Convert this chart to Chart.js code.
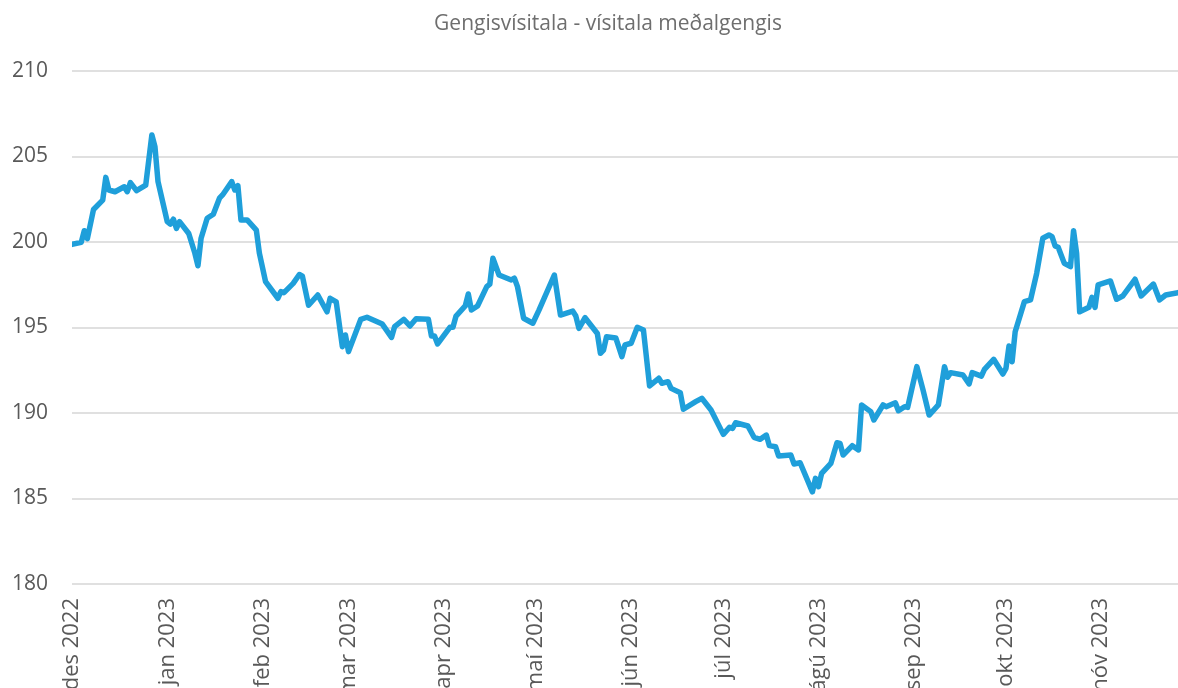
<!DOCTYPE html>
<html>
<head>
<meta charset="utf-8">
<title>Gengisvísitala</title>
<script src="https://cdn.jsdelivr.net/npm/chart.js@4.4.0/dist/chart.umd.min.js"></script>
<style>
    html, body { margin: 0; padding: 0; background: #fff; overflow: hidden; }
    #wrap { position: relative; width: 1178px; height: 688px; }
    #title {
        position: absolute; left: 0; top: 8px; width: 1216px;
        text-align: center; font-family: "Open Sans", sans-serif;
        font-size: 21px; color: #6e6e6e;
    }
</style>
</head>
<body>
<div id="wrap">
    <canvas id="mycanvas"></canvas>
    <div id="title">Gengisvísitala - vísitala meðalgengis</div>
</div>
<script>
// days counted from 1 Dec 2022
var days = [
    0, 3, 4, 5, 7, 10, 11, 12, 14, 17, 18, 19, 21, 24, 26, 27, 28, 31, 32, 33,
    34, 35, 38, 40, 41, 42, 44, 46, 48, 49, 52, 53, 54, 55, 57, 60, 61, 63, 67, 68,
    69, 72, 74, 75, 77, 80, 83, 84, 86, 88, 89, 90, 94, 96, 101, 104, 105, 108, 110, 112,
    116, 117, 118, 119, 123, 124, 125, 128, 129, 130, 132, 135, 136, 137, 139, 143, 144, 145, 147, 150,
    152, 157, 159, 163, 164, 165, 167, 171, 172, 173, 174, 177, 179, 180, 182, 184, 186, 188, 191, 192,
    194, 195, 198, 199, 203, 205, 208, 212, 214, 215, 216, 220, 222, 224, 226, 227, 229, 230, 234, 235,
    237, 241, 242, 243, 244, 247, 249, 250, 251, 254, 256, 257, 260, 261, 264, 265, 268, 269, 271, 272,
    275, 277, 279, 282, 284, 285, 286, 290, 292, 293, 296, 297, 300, 303, 304, 305, 306, 307, 310, 312,
    314, 316, 318, 319, 320, 321, 323, 325, 326, 327, 328, 331, 332, 333, 334, 338, 340, 342, 346, 348,
    352, 354, 356, 360
];
var values = [
    199.86, 199.98, 200.66, 200.2, 201.9, 202.45, 203.78, 203.04, 202.94, 203.23, 202.94, 203.47, 203.0, 203.33, 206.26, 205.57, 203.53, 201.19, 201.05, 201.33,
    200.8, 201.19, 200.5, 199.34, 198.61, 200.2, 201.39, 201.62, 202.56, 202.75, 203.53, 203.04, 203.29, 201.29, 201.29, 200.7, 199.34, 197.68, 196.71, 197.1,
    197.04, 197.58, 198.1, 198.0, 196.3, 196.9, 195.92, 196.71, 196.5, 193.88, 194.56, 193.59, 195.48, 195.6, 195.2, 194.42, 195.05, 195.48, 195.09, 195.51,
    195.48, 194.5, 194.5, 194.04, 195.01, 195.01, 195.67, 196.26, 196.96, 196.02, 196.26, 197.39, 197.54, 199.05, 198.07, 197.78, 197.88, 197.39, 195.54, 195.25,
    196.02, 198.07, 195.73, 195.96, 195.67, 194.95, 195.57, 194.65, 193.49, 193.68, 194.46, 194.39, 193.3, 193.98, 194.08, 195.01, 194.85, 191.58, 192.03, 191.74,
    191.83, 191.44, 191.19, 190.22, 190.66, 190.86, 190.18, 188.75, 189.16, 189.1, 189.43, 189.24, 188.58, 188.46, 188.71, 188.09, 188.03, 187.49, 187.54, 187.02,
    187.09, 185.39, 186.18, 185.69, 186.47, 187.05, 188.26, 188.22, 187.54, 188.09, 187.84, 190.47, 190.08, 189.59, 190.47, 190.37, 190.6, 190.13, 190.37, 190.33,
    192.71, 191.35, 189.88, 190.47, 192.71, 192.09, 192.36, 192.22, 191.7, 192.36, 192.16, 192.55, 193.14, 192.28, 192.61, 193.92, 193.0, 194.75, 196.51, 196.61,
    198.17, 200.22, 200.41, 200.31, 199.77, 199.69, 198.75, 198.56, 200.66, 199.34, 195.92, 196.18, 196.76, 196.18, 197.49, 197.72, 196.65, 196.84, 197.82, 196.84,
    197.54, 196.61, 196.9, 197.04
];
var monthDays = [0, 31, 62, 90, 121, 151, 182, 212, 243, 274, 304, 335];
var monthLabels = ['des 2022', 'jan 2023', 'feb 2023', 'mar 2023', 'apr 2023', 'maí 2023',
    'jún 2023', 'júl 2023', 'ágú 2023', 'sep 2023', 'okt 2023', 'nóv 2023'];

var points = [];
for (var i in days) {
    points.push({ x: days[i], y: values[i] });
}

var ctx = document.getElementById('mycanvas');
var lineGraph = new Chart(ctx, {
    type: 'line',
    data: {
        datasets: [{
            label: 'Gengisvísitala',
            data: points,
            borderColor: '#1f9fda',
            borderWidth: 5.5,
            borderJoinStyle: 'round',
            borderCapStyle: 'round',
            pointRadius: 0,
            tension: 0,
            fill: false
        }]
    },
    options: {
        responsive: true,
        maintainAspectRatio: false,
        animation: false,
        layout: { padding: { top: 71, right: 0, left: 0, bottom: 0 } },
        plugins: {
            legend: { display: false },
            title: { display: false },
            tooltip: { enabled: false }
        },
        scales: {
            x: {
                type: 'linear',
                min: 0,
                max: 360,
                afterBuildTicks: function(scale) {
                    scale.ticks = monthDays.map(function(d) { return { value: d }; });
                },
                afterFit: function(scale) {
                    scale.height = 104;
                },
                grid: { display: false, drawTicks: false },
                border: { display: false },
                ticks: {
                    autoSkip: false,
                    minRotation: 90,
                    maxRotation: 90,
                    padding: 14,
                    color: '#595959',
                    font: { family: 'Open Sans', size: 22 },
                    callback: function(value, index) {
                        return monthLabels[index];
                    }
                }
            },
            y: {
                min: 180,
                max: 210,
                afterFit: function(scale) {
                    scale.width = 72;
                },
                grid: { color: '#e0e0e0', lineWidth: 2, drawTicks: false },
                border: { display: false },
                ticks: {
                    stepSize: 5,
                    padding: 24,
                    color: '#595959',
                    font: { family: 'Open Sans', size: 21 }
                }
            }
        }
    }
});
</script>
</body>
</html>
